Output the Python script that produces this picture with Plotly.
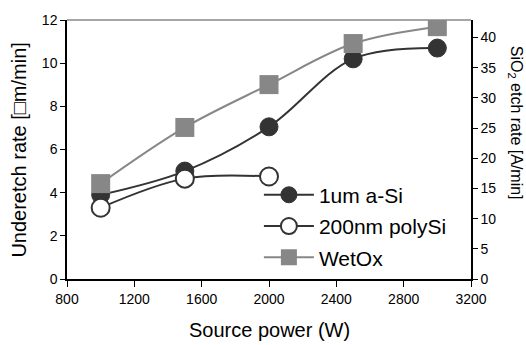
import plotly.graph_objects as go

power = [1000, 1500, 2000, 2500, 3000]
asi = [3.9, 5.0, 7.05, 10.2, 10.7]
poly_x = [1000, 1500, 2000]
poly = [3.3, 4.65, 4.75]
wetox = [15.8, 25.1, 32.2, 39.0, 41.8]

dark = "#333333"
gray = "#878787"
font = "Liberation Sans, Arial, sans-serif"

fig = go.Figure()
fig.add_trace(go.Scatter(x=power, y=asi, name="1um a-Si", mode="lines+markers", legendgroup="a",
                         line=dict(color=dark, width=2, shape="spline"),
                         marker=dict(symbol="circle", size=18, color=dark, line=dict(color=dark, width=1))))
fig.add_trace(go.Scatter(x=poly_x, y=poly, name="200nm polySi", mode="lines+markers", legendgroup="b",
                         line=dict(color=dark, width=2, shape="spline"),
                         marker=dict(symbol="circle", size=18, color="white", line=dict(color=dark, width=2))))
fig.add_trace(go.Scatter(x=power, y=wetox, name="WetOx", mode="lines+markers", yaxis="y2", legendgroup="c",
                         line=dict(color=gray, width=2, shape="spline"),
                         marker=dict(symbol="square", size=19, color=gray, line=dict(color=gray, width=0))))

fig.update_layout(
    width=526, height=345,
    margin=dict(l=67, r=55, t=16, b=66),
    paper_bgcolor="white", plot_bgcolor="white",
    font=dict(family=font, size=14, color="black"),
    showlegend=True,
    legend=dict(x=0.475, y=0.403, xanchor="left", yanchor="top", bgcolor="rgba(0,0,0,0)",
                font=dict(size=21, family=font), traceorder="grouped", tracegroupgap=1, itemwidth=50),
    xaxis=dict(range=[800, 3200], tickvals=[800, 1200, 1600, 2000, 2400, 2800, 3200],
               showgrid=False, zeroline=False, showline=True, linecolor="black", linewidth=1.5,
               ticks="outside", ticklen=6, tickcolor="black", tickfont=dict(size=14)),
    yaxis=dict(range=[0, 12], tickvals=[0, 2, 4, 6, 8, 10, 12],
               showgrid=False, zeroline=False, showline=True, linecolor="black", linewidth=1.5,
               ticks="outside", ticklen=5, tickcolor="black", tickfont=dict(size=14)),
    yaxis2=dict(range=[0, 42.9], tickvals=[0, 5, 10, 15, 20, 25, 30, 35, 40], overlaying="y", side="right",
                showgrid=False, zeroline=False, showline=True, linecolor="black", linewidth=1.5,
                ticks="outside", ticklen=5, tickcolor="black", tickfont=dict(size=14)),
    shapes=[dict(type="line", xref="paper", yref="paper", x0=0, x1=1, y0=1, y1=1,
                 line=dict(color="#888888", width=1.5))],
    annotations=[
        dict(text="SiO<sub>2</sub> etch rate [A/min]", xref="paper", yref="paper",
             x=1.111, y=0.604, showarrow=False, textangle=90, font=dict(size=16, family=font),
             xanchor="center", yanchor="middle"),
        dict(text="Underetch rate [\u25a1m/min]", xref="paper", yref="paper",
             x=-0.121, y=0.5, showarrow=False, textangle=-90, font=dict(size=20, family=font),
             xanchor="center", yanchor="middle"),
        dict(text="Source power (W)", xref="paper", yref="paper",
             x=0.5, y=-0.198, showarrow=False, font=dict(size=20, family=font),
             xanchor="center", yanchor="middle"),
    ],
)

fig.write_html("out.html")
